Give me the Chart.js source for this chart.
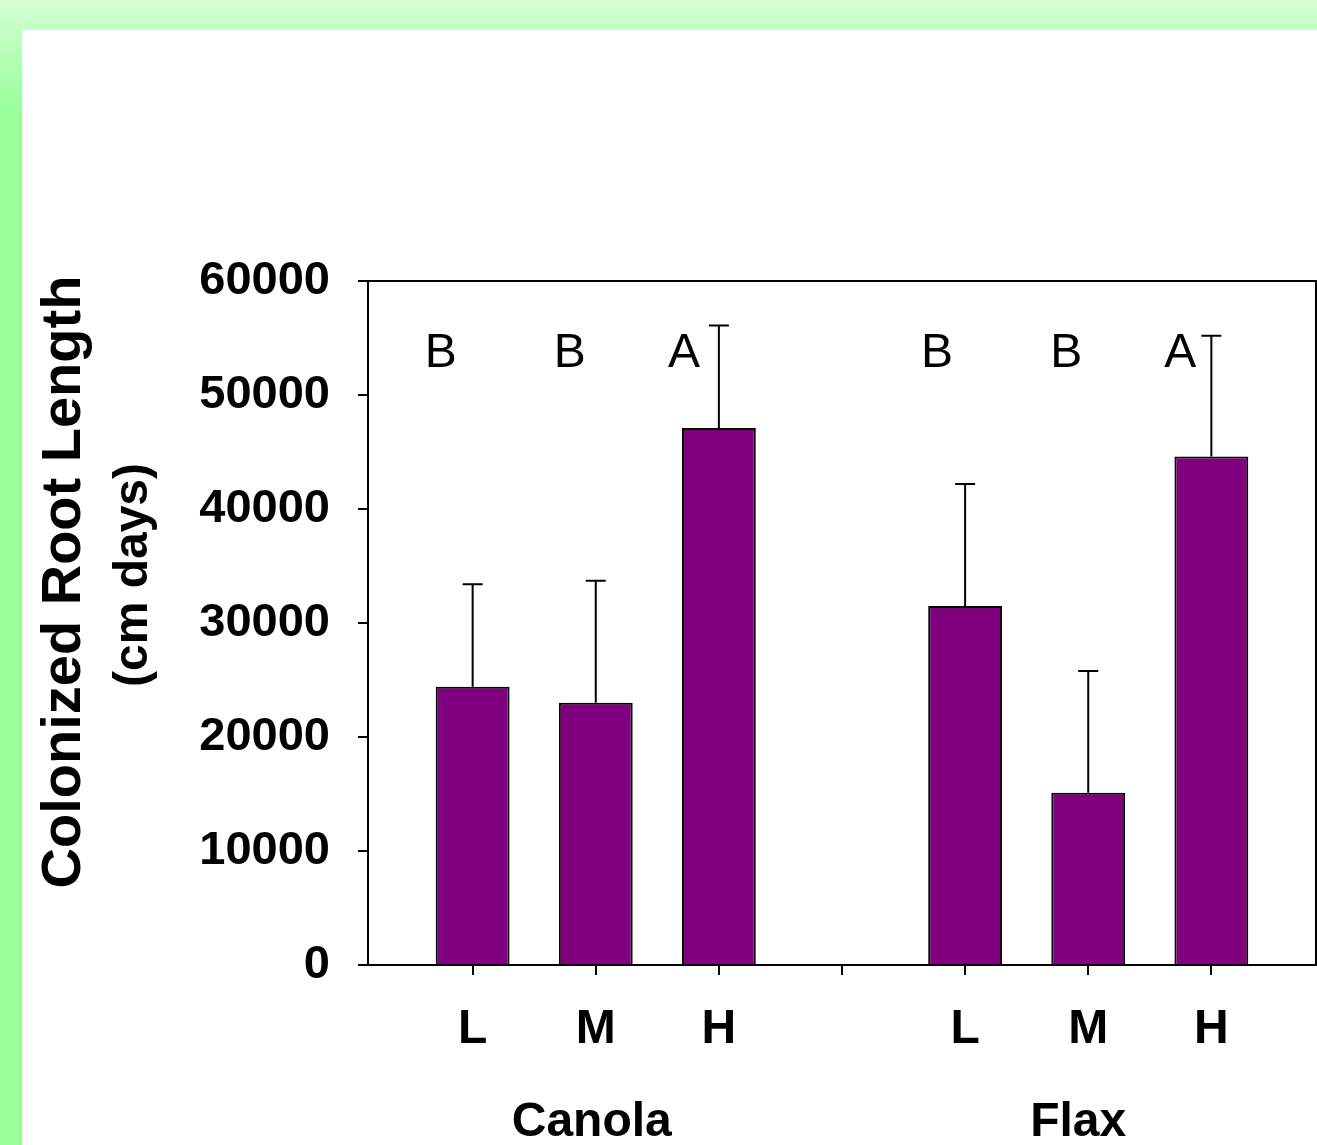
<!DOCTYPE html>
<html>
<head>
<meta charset="utf-8">
<script src="https://cdn.jsdelivr.net/npm/chart.js@4.4.1/dist/chart.umd.min.js"></script>
<style>
html, body { margin: 0; padding: 0; }
body {
    width: 1317px;
    height: 1145px;
    overflow: hidden;
    position: relative;
    background: linear-gradient(to bottom, #d4ffd4 0px, #99ff99 110px, #99ff99 100%);
}
#panel { position: absolute; left: 22px; top: 30px; width: 1295px; height: 1115px; background: #fff; }
canvas { display: block; }
</style>
</head>
<body>
<div id="panel"><canvas id="chart" width="1295" height="1115"></canvas></div>
<script>
// slot positions on the x axis (4 is the empty gap between the crops)
const positions = [1, 2, 3, 5, 6, 7];
const tickPositions = [1, 2, 3, 4, 5, 6, 7];
const levels = ['L', 'M', 'H', 'L', 'M', 'H'];
const crops = ['Canola', 'Flax'];
const cropCenters = [2, 6];

// colonized root length (cm days) and upper error
const means = [24400, 23000, 47100, 31500, 15100, 44600];
const errors = [9000, 10700, 9000, 10700, 10700, 10600];
const letters = ['B', 'B', 'A', 'B', 'B', 'A'];
const letterLevel = 52500;

const yTicks = [0, 10000, 20000, 30000, 40000, 50000, 60000];

const family = "'Liberation Sans', Arial, Helvetica, sans-serif";
Chart.defaults.font.family = family;
Chart.defaults.color = '#000';

// horizontal nudge of each letter relative to its bar (px)
const letterShift = [-32, -26, -35, -28, -22, -31];

const extras = {
    id: 'extras',
    afterDatasetsDraw(chart) {
        const { ctx, chartArea: a, scales: { x, y } } = chart;
        ctx.save();
        ctx.strokeStyle = '#000';
        ctx.lineWidth = 2;

        // top and right frame
        ctx.beginPath();
        ctx.moveTo(a.left, a.top);
        ctx.lineTo(a.right, a.top);
        ctx.lineTo(a.right, a.bottom);
        ctx.stroke();

        // error bars (upper only)
        const meta = chart.getDatasetMeta(0);
        meta.data.forEach((bar, i) => {
            const top = y.getPixelForValue(means[i] + errors[i]);
            ctx.beginPath();
            ctx.moveTo(bar.x, bar.y);
            ctx.lineTo(bar.x, top);
            ctx.moveTo(bar.x - 10, top);
            ctx.lineTo(bar.x + 10, top);
            ctx.stroke();
        });

        // significance letters
        ctx.fillStyle = '#000';
        ctx.textAlign = 'center';
        ctx.textBaseline = 'alphabetic';
        ctx.font = `48px ${family}`;
        letters.forEach((t, i) => {
            ctx.fillText(t, x.getPixelForValue(positions[i]) + letterShift[i], y.getPixelForValue(letterLevel));
        });

        // crop names under the level labels
        ctx.font = `bold 48px ${family}`;
        const shift = [-4, -10];
        crops.forEach((c, i) => {
            ctx.fillText(c, x.getPixelForValue(cropCenters[i]) + shift[i], a.bottom + 171);
        });

        // y axis title, two lines
        ctx.save();
        ctx.translate(58, 552);
        ctx.rotate(-Math.PI / 2);
        ctx.font = `bold 56px ${family}`;
        ctx.fillText('Colonized Root Length', 0, 0);
        ctx.restore();

        ctx.save();
        ctx.translate(125, 545);
        ctx.rotate(-Math.PI / 2);
        ctx.font = `bold 48px ${family}`;
        ctx.fillText('(cm days)', 0, 0);
        ctx.restore();

        ctx.restore();
    }
};

new Chart(document.getElementById('chart').getContext('2d'), {
    type: 'bar',
    data: {
        datasets: [{
            data: positions.map((p, i) => ({ x: p, y: means[i] })),
            backgroundColor: '#800080',
            borderColor: '#000',
            borderWidth: 2,
            barPercentage: 0.6,
            categoryPercentage: 1.0
        }]
    },
    options: {
        responsive: false,
        animation: false,
        layout: {
            padding: { top: 251, right: 1, left: 0, bottom: 0 }
        },
        scales: {
            x: {
                type: 'linear',
                min: 0.15,
                max: 7.85,
                offset: false,
                afterBuildTicks: axis => {
                    axis.ticks = tickPositions.map(v => ({ value: v }));
                },
                afterFit: scale => { scale.height = 180; },
                ticks: {
                    autoSkip: false,
                    maxRotation: 0,
                    padding: 26,
                    color: '#000',
                    font: { size: 48, weight: 'bold' },
                    callback: v => {
                        const i = positions.indexOf(v);
                        return i < 0 ? '' : levels[i];
                    }
                },
                grid: {
                    display: true,
                    drawOnChartArea: false,
                    offset: false,
                    tickLength: 10,
                    color: '#000',
                    lineWidth: 2
                },
                border: { display: true, color: '#000', width: 2 }
            },
            y: {
                min: 0,
                max: 60000,
                afterBuildTicks: axis => {
                    axis.ticks = yTicks.map(v => ({ value: v }));
                },
                afterFit: scale => { scale.width = 346; },
                ticks: {
                    padding: 28,
                    color: '#000',
                    font: { size: 47, weight: 'bold' },
                    callback: v => String(v)
                },
                grid: {
                    display: true,
                    drawOnChartArea: false,
                    tickLength: 10,
                    color: '#000',
                    lineWidth: 2
                },
                border: { display: true, color: '#000', width: 2 }
            }
        },
        plugins: {
            legend: { display: false },
            tooltip: { enabled: false }
        }
    },
    plugins: [extras]
});
</script>
</body>
</html>
